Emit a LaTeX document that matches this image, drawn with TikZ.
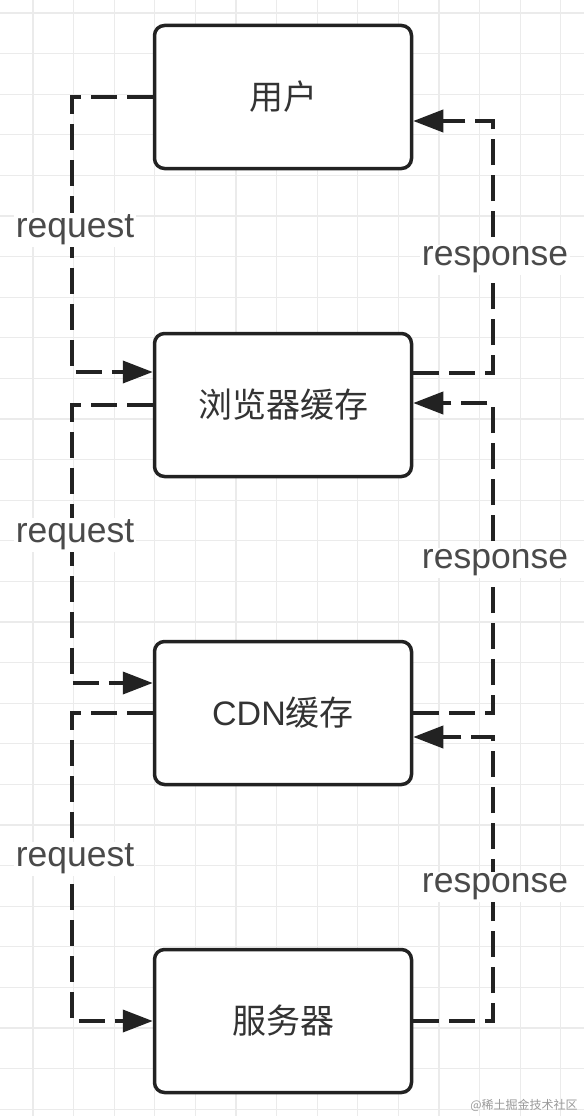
\documentclass[tikz,border=0pt]{standalone}
\usepackage{fontspec}
\setmainfont{Liberation Sans}
\newfontfamily\cjk{Noto Sans CJK SC}
\usetikzlibrary{arrows.meta}
\definecolor{gridc}{HTML}{EBEBEB}
\definecolor{inkc}{HTML}{222222}
\definecolor{txtc}{HTML}{333333}
\definecolor{lblc}{HTML}{4A4A4A}
\tikzset{
  box/.style={draw=inkc, line width=3.5pt, rounded corners=10pt, fill=white,
    minimum width=257pt, minimum height=143pt, inner sep=0pt,
    font=\fontsize{34}{40}\selectfont, text=txtc},
  conn/.style={draw=inkc, line width=3.8pt, dash pattern=on 26pt off 10pt,
    -{Triangle[length=30pt,width=22pt]}},
  lbl/.style={fill=white, inner sep=2pt, text=lblc, font=\fontsize{35.5}{40}\selectfont},
  gridline/.style={draw=gridc, line width=1.2pt}
}
\begin{document}
\begin{tikzpicture}[x=1pt,y=-1pt]
\useasboundingbox (0,0) rectangle (584,1116);
\fill[white] (0,0) rectangle (584,1116);
\foreach \i in {0,...,13} \draw[gridline] ({33+40.6*\i},0) -- ({33+40.6*\i},1116);
\foreach \j in {0,...,27} \draw[gridline] (0,{13+40.6*\j}) -- (584,{13+40.6*\j});

\node[box] (u) at (283,97) {\cjk 用户};
\node[box] (b) at (283,405) {\cjk 浏览器缓存};
\node[box] (c) at (283,713) {CDN{\cjk 缓存}};
\node[box] (s) at (283,1021) {\cjk 服务器};

% requests (left)
\draw[conn] (u.west) -- ++(-81,0) |- ([yshift=33pt]b.west);
\draw[conn] (b.west) -- ++(-81,0) |- ([yshift=30pt]c.west);
\draw[conn] (c.west) -- ++(-81,0) |- (s.west);

% responses (right)
\draw[conn] ([yshift=32pt]b.east) -- ++(80,0) |- ([yshift=-24pt]u.east);
\draw[conn] (c.east) -- ++(80,0) |- ([yshift=2pt]b.east);
\draw[conn] (s.east) -- ++(80,0) |- ([yshift=-24pt]c.east);

\node[lbl] (rq1) at (75,230) {request};
\node[lbl] (rq2) at (75,535) {request};
\node[lbl] (rq3) at (75,859) {request};
\node[lbl] (rs1) at (495,260) {response};
\node[lbl] (rs2) at (495,563) {response};
\node[lbl] (rs3) at (495,887) {response};

\node[text=black!40, font=\fontsize{12}{14}\selectfont\cjk] (wm) at (524,1105) {@稀土掘金技术社区};
\end{tikzpicture}
\end{document}
